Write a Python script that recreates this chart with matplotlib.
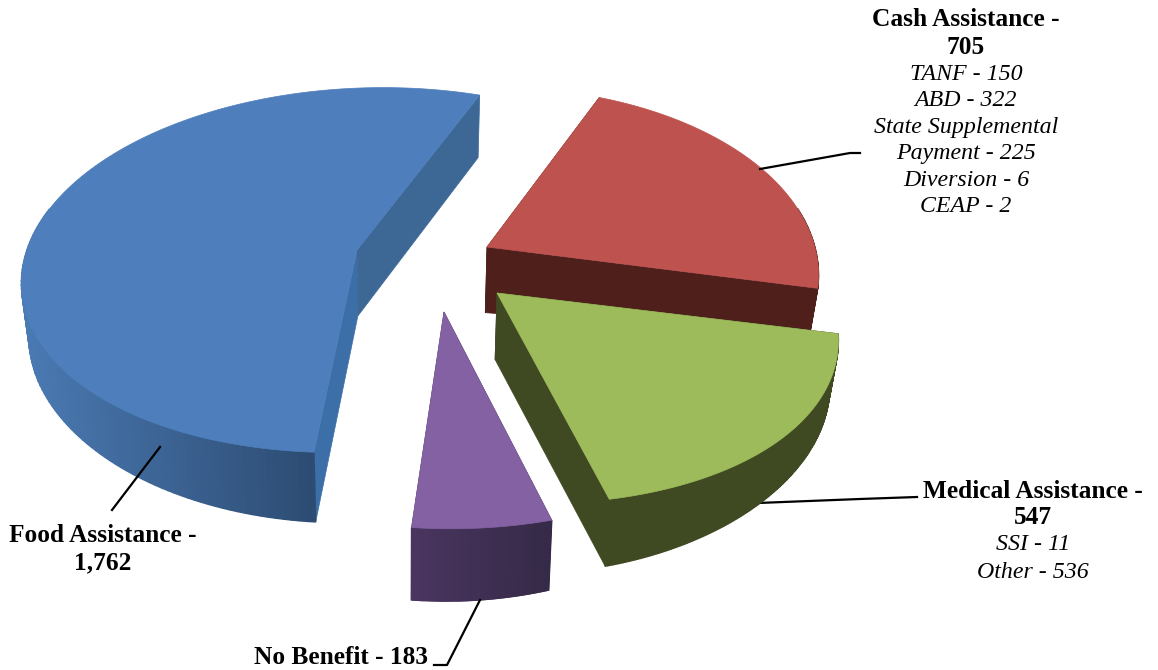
import numpy as np
import matplotlib
matplotlib.use("Agg")
import matplotlib.pyplot as plt
from matplotlib.patches import Polygon
from matplotlib.colors import LinearSegmentedColormap

# slices, clockwise from the top right
categories = ["Cash Assistance", "Medical Assistance", "No Benefit", "Food Assistance"]
values = [705, 547, 183, 1762]

cash_lines = ["TANF - 150", "ABD - 322", "State Supplemental", "Payment - 225", "Diversion - 6", "CEAP - 2"]
medical_lines = ["SSI - 11", "Other - 536"]

# look of each slice
top_colors = ["#bd524e", "#9dbb5a", "#8361a3", "#4e7fbc"]
side_colors = [["#4f1f1b", "#4f1f1b"], ["#3f4a23", "#3f4a23"], ["#4a3560", "#352a47"], ["#4a7ab3", "#2d4c73"]]
start_face = ["#4f1f1b", "#3f4a23", "#352a47", "#3c6fa8"]
end_face = ["#4f1f1b", "#3f4a23", "#4a3560", "#3d6896"]
apex = [(487, 247), (497, 293), (444, 312), (357, 250)]
radius = [320, 329, 332, 340]
squash = [0.575, 0.55, 0.55, 0.53]
depth = [0.155, 0.155, 0.155, 0.11]
shear = [-0.06, -0.04, -0.055, -0.07]
tilt = [0.05, 0.05, 0.05, 0.0]
bow = [0, 0, 0, 0.015]
bulge = [0, 0.03, 0, 0]
draw_order = [3, 0, 2, 1]

# fake perspective of the tilted pie
start_angle = -70
side_depth = 0.03


def project(i, ang):
    X = np.cos(np.radians(ang))
    Y = np.sin(np.radians(ang))
    w = 1 - depth[i] * Y - side_depth * X
    r = radius[i] * (1 + bulge[i] * np.sin(np.pi * (ang - ang[0]) / (ang[-1] - ang[0])))
    return (apex[i][0] + r * (X + shear[i] * Y - bow[i] * Y ** 2) / w,
            apex[i][1] + r * squash[i] * (Y + tilt[i] * X) / w)


def drop(x, y):
    # where a top point lands on the underside
    c = np.where(x < 420, 0.22, 0.33)
    h = (63 + 0.022 * (y - 100)) * (1 - c * ((x - 420) / 420) ** 2)
    return x - 0.02 * (x - 400), y + h


fig = plt.figure(figsize=(11.58, 6.70), dpi=100)
ax = fig.add_axes([0, 0, 1, 1])
ax.set_xlim(0, 1158)
ax.set_ylim(670, 0)
ax.axis("off")

# this one runs behind the green slice
ax.plot([745, 860, 917], [503.5, 499, 497], color="black", lw=1.6, zorder=0.5)

sweeps = np.array(values) / sum(values) * 360
starts = start_angle + np.concatenate([[0], np.cumsum(sweeps)[:-1]])

for i in draw_order:
    angs = np.linspace(starts[i], starts[i] + sweeps[i], 160)
    xs, ys = project(i, angs)
    bx, by = drop(xs, ys)
    ax_, ay_ = apex[i]
    bax, bay = drop(np.float64(ax_), np.float64(ay_))
    ax.add_patch(Polygon([(ax_, ay_), (xs[0], ys[0]), (bx[0], by[0]), (bax, bay)],
                         facecolor=start_face[i], edgecolor=start_face[i], lw=0.5))
    ax.add_patch(Polygon([(ax_, ay_), (xs[-1], ys[-1]), (bx[-1], by[-1]), (bax, bay)],
                         facecolor=end_face[i], edgecolor=end_face[i], lw=0.5))
    cmap = LinearSegmentedColormap.from_list("side", side_colors[i])
    front = ys > ay_ - 40
    lo, hi = xs[front].min(), xs[front].max()
    for j in range(len(angs) - 1):
        if not front[j]:
            continue
        c = cmap((xs[j] - lo) / (hi - lo))
        ax.add_patch(Polygon([(xs[j], ys[j]), (xs[j + 1], ys[j + 1]), (bx[j + 1], by[j + 1]), (bx[j], by[j])],
                             facecolor=c, edgecolor=c, lw=1.0))
    ax.add_patch(Polygon(np.vstack([[(ax_, ay_)], np.column_stack([xs, ys])]),
                         facecolor=top_colors[i], edgecolor=top_colors[i], lw=0.5))

# leader lines
ax.plot([112, 160], [510, 447], color="black", lw=1.6)
ax.plot([760, 850, 860], [169, 153, 153], color="black", lw=1.6)
ax.plot([480, 447, 434], [600, 665, 665], color="black", lw=1.6)

serif = "Liberation Serif"
bold = dict(family=serif, fontsize=18.3, fontweight="bold", ha="center", va="center", color="black")
ital = dict(family=serif, fontsize=17.2, fontstyle="italic", ha="center", va="center", color="black")

ax.text(966, 19, f"{categories[0]} -", **bold)
ax.text(966, 47, f"{values[0]}", **bold)
for k, line in enumerate(cash_lines):
    ax.text(966, 74 + k * 26.6, line, **ital)

ax.text(1033, 491, f"{categories[1]} -", **bold)
ax.text(1033, 518, f"{values[1]}", **bold)
for k, line in enumerate(medical_lines):
    ax.text(1033, 545 + k * 27, line, **ital)

ax.text(103, 535, f"{categories[3]} -", **bold)
ax.text(103, 563, f"{values[3]:,}", **bold)
ax.text(341, 658, f"{categories[2]} - {values[2]}", **bold)

fig.savefig("out.png", dpi=100)
